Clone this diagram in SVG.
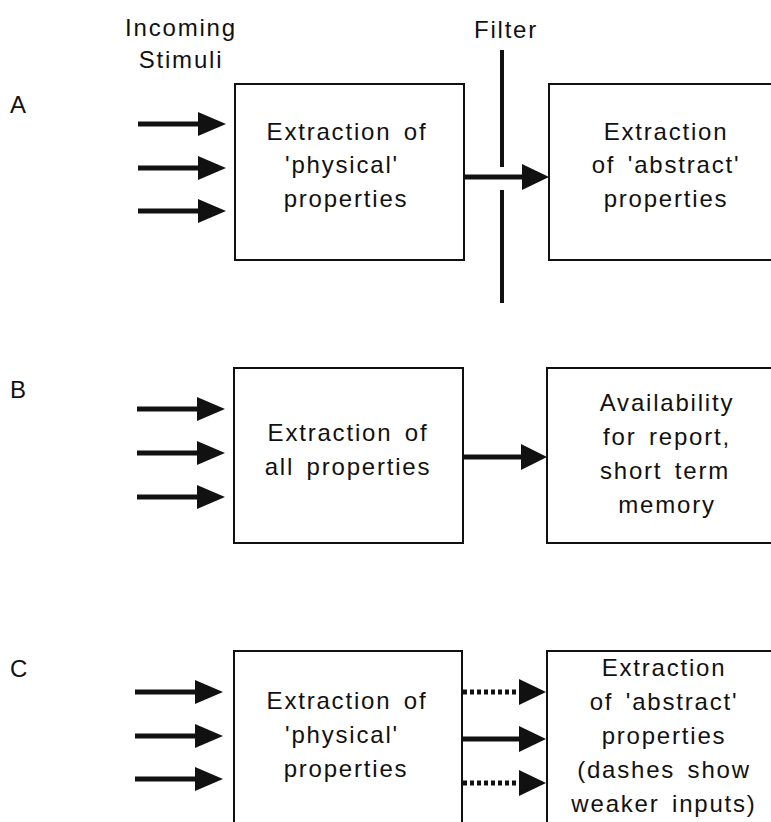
<svg xmlns="http://www.w3.org/2000/svg" width="771" height="822" viewBox="0 0 771 822">
<style>
text{font-family:"Liberation Sans",Arial,sans-serif;font-size:24px;fill:#111;letter-spacing:1.8px;word-spacing:4px}
.c{text-anchor:middle}
.box{fill:#fff;stroke:#111;stroke-width:2}
.sh{stroke:#111;stroke-width:5;fill:none}
.dot{stroke:#111;stroke-width:5;fill:none;stroke-dasharray:4 3}
.hd{fill:#111}
</style>
<rect width="771" height="822" fill="#fff"/>
<g id="labels">
<text class="c" x="181" y="36">Incoming</text>
<text class="c" x="181" y="68">Stimuli</text>
<text class="c" x="506" y="38">Filter</text>
<text x="10" y="113">A</text>
<text x="10" y="398">B</text>
<text x="10" y="677">C</text>
</g>
<g id="filter">
<line x1="502" y1="50" x2="502" y2="167" stroke="#111" stroke-width="4"/>
<line x1="502" y1="190" x2="502" y2="303" stroke="#111" stroke-width="4"/>
</g>
<g id="A1"><rect class="box" x="235" y="84" width="229" height="176"/>
<text class="c" x="347" y="140">Extraction of</text>
<text class="c" x="342" y="173">'physical'</text>
<text class="c" x="346" y="207">properties</text></g>
<g id="A2"><rect class="box" x="549" y="84" width="240" height="176"/>
<text class="c" x="666" y="140">Extraction</text>
<text class="c" x="666" y="173">of 'abstract'</text>
<text class="c" x="666" y="207">properties</text></g>
<g id="B1"><rect class="box" x="234" y="368" width="229" height="175"/>
<text class="c" x="348" y="441">Extraction of</text>
<text class="c" x="348" y="475">all properties</text></g>
<g id="B2"><rect class="box" x="547" y="368" width="240" height="175"/>
<text class="c" x="667" y="411">Availability</text>
<text class="c" x="667" y="445">for report,</text>
<text class="c" x="665" y="479">short term</text>
<text class="c" x="667" y="513">memory</text></g>
<g id="C1"><rect class="box" x="234" y="651" width="228" height="200"/>
<text class="c" x="347" y="709">Extraction of</text>
<text class="c" x="342" y="743">'physical'</text>
<text class="c" x="346" y="777">properties</text></g>
<g id="C2"><rect class="box" x="547" y="651" width="240" height="200"/>
<text class="c" x="664" y="676">Extraction</text>
<text class="c" x="664" y="710">of 'abstract'</text>
<text class="c" x="664" y="744">properties</text>
<text class="c" x="664" y="778">(dashes show</text>
<text class="c" x="664" y="812">weaker inputs)</text></g>
<g id="connectors">
<line class="sh" x1="138" y1="124" x2="200" y2="124"/><polygon class="hd" points="198,112 226,124 198,136"/>
<line class="sh" x1="138" y1="168" x2="200" y2="168"/><polygon class="hd" points="198,156 226,168 198,180"/>
<line class="sh" x1="138" y1="211" x2="200" y2="211"/><polygon class="hd" points="198,199 226,211 198,223"/>
<line class="sh" x1="464" y1="177" x2="524" y2="177"/><polygon class="hd" points="522,164 549,177 522,190"/>
<line class="sh" x1="137" y1="409" x2="200" y2="409"/><polygon class="hd" points="197,397 225,409 197,421"/>
<line class="sh" x1="137" y1="453" x2="200" y2="453"/><polygon class="hd" points="197,441 225,453 197,465"/>
<line class="sh" x1="137" y1="497" x2="200" y2="497"/><polygon class="hd" points="197,485 225,497 197,509"/>
<line class="sh" x1="463" y1="457" x2="523" y2="457"/><polygon class="hd" points="521,444 547,457 521,470"/>
<line class="sh" x1="135" y1="692" x2="198" y2="692"/><polygon class="hd" points="195,680 223,692 195,704"/>
<line class="sh" x1="135" y1="736" x2="198" y2="736"/><polygon class="hd" points="195,724 223,736 195,748"/>
<line class="sh" x1="135" y1="779" x2="198" y2="779"/><polygon class="hd" points="195,767 223,779 195,791"/>
<line class="dot" x1="463" y1="692" x2="521" y2="692"/><polygon class="hd" points="519,679 546,692 519,705"/>
<line class="sh" x1="463" y1="739" x2="521" y2="739"/><polygon class="hd" points="519,726 546,739 519,752"/>
<line class="dot" x1="463" y1="783" x2="521" y2="783"/><polygon class="hd" points="519,770 546,783 519,796"/>
</g>
</svg>
